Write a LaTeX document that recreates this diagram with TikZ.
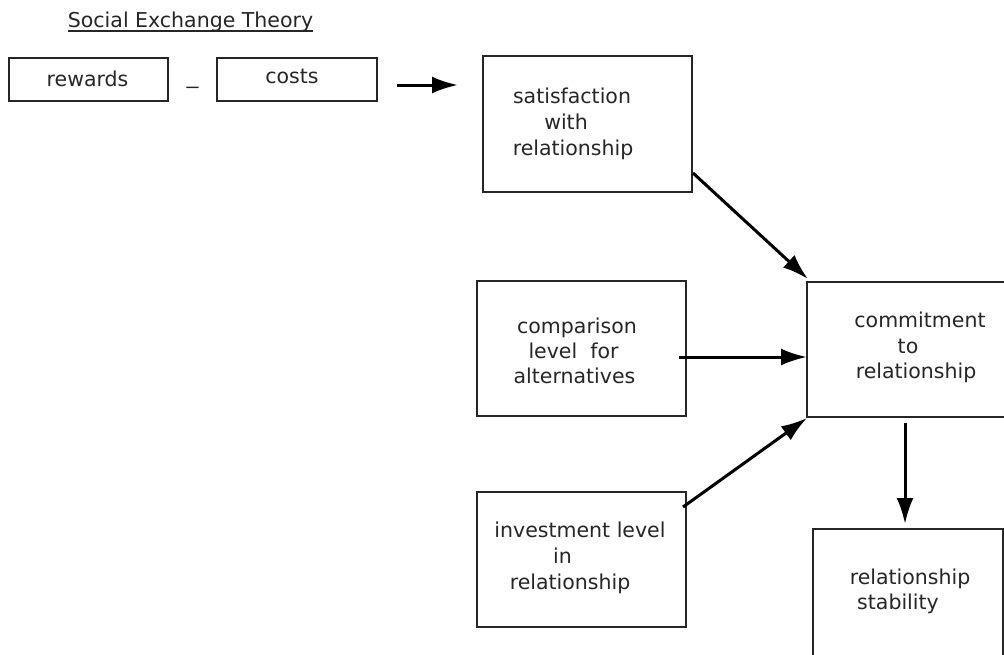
\documentclass[tikz,border=0pt]{standalone}
\usepackage{fontspec}
\setmainfont{DejaVu Sans}
\usetikzlibrary{arrows.meta}
\tikzset{
  boxnode/.style={draw=black!85, line width=1.4pt, minimum width=#1, outer sep=0pt, inner sep=0pt},
  txt/.style={font=\fontsize{20.5}{25}\selectfont, inner sep=0pt, outer sep=0pt, anchor=base, text=black!85},
  arr/.style={line width=3pt, -{Latex[length=26pt,width=17pt]}},
}
\begin{document}
\begin{tikzpicture}[x=1pt,y=-1pt]
\useasboundingbox[fill=white] (0,0) rectangle (1004,654);
% title
\node[txt] (title) at (190.5,27) {Social Exchange Theory};
\draw[line width=1.2pt, black!85] ([yshift=-4pt]title.base west) -- ([yshift=-4pt]title.base east);
% top row
\node[boxnode=159pt, minimum height=43pt] (rewards) at (88.5,79.5) {};
\node[txt] (rewardsT) at (87.5,86) {rewards};
\node[txt] (minus) at (192.5,93) {\scalebox{1.5}[1]{–}};
\node[boxnode=160pt, minimum height=43pt] (costs) at (297,79.5) {};
\node[txt] (costsT) at (292,83) {costs};
% satisfaction
\node[boxnode=209pt, minimum height=136pt] (sat) at (587.5,124) {};
\node[txt] (sat1) at (572,103) {satisfaction};
\node[txt] (sat2) at (566,129) {with};
\node[txt] (sat3) at (573,155) {relationship};
% comparison
\node[boxnode=209pt, minimum height=135pt] (comp) at (581.5,348.5) {};
\node[txt] (comp1) at (577,333) {comparison};
\node[txt] (comp2) at (573.5,358) {level\ \ for};
\node[txt] (comp3) at (574.5,383) {alternatives};
% commitment
\node[boxnode=203pt, minimum height=135pt] (commit) at (908.5,349.5) {};
\node[txt] (com1) at (920,327) {commitment};
\node[txt] (com2) at (908,353) {to};
\node[txt] (com3) at (916,378) {relationship};
% investment
\node[boxnode=209pt, minimum height=135pt] (inv) at (581.5,559.5) {};
\node[txt] (inv1) at (580,537) {investment level};
\node[txt] (inv2) at (562.5,563) {in};
\node[txt] (inv3) at (570,589) {relationship};
% stability
\node[boxnode=190pt, minimum height=140pt] (stab) at (908,599) {};
\node[txt] (stab1) at (910,584) {relationship};
\node[txt] (stab2) at (898,609) {stability};
% connectors
\coordinate (a1s) at (397,85);
\coordinate (a1e) at (458,85);
\draw[arr] (a1s) -- (a1e);
\coordinate (a2s) at (693,173);
\coordinate (a2e) at (808,279);
\draw[arr] (a2s) -- (a2e);
\coordinate (a3s) at (679,357);
\coordinate (a3e) at (807,357);
\draw[arr] (a3s) -- (a3e);
\coordinate (a4s) at (683,507);
\coordinate (a4e) at (807,418);
\draw[arr] (a4s) -- (a4e);
\coordinate (a5s) at (905,423);
\coordinate (a5e) at (905,524);
\draw[arr] (a5s) -- (a5e);
\end{tikzpicture}
\end{document}
